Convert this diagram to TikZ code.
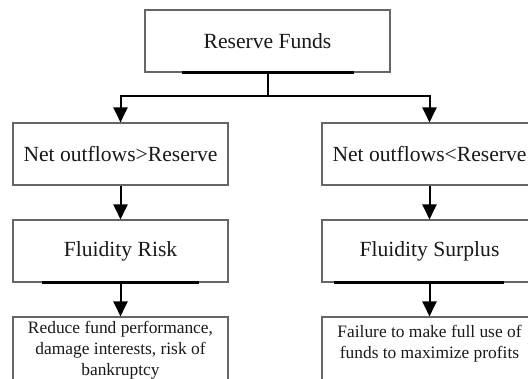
\documentclass[tikz,border=0pt]{standalone}
\usepackage{fontspec}
\setmainfont{Liberation Serif}
\usetikzlibrary{arrows.meta,calc}
\begin{document}
\begin{tikzpicture}[x=1pt,y=-1pt,
  box/.style={draw=black!60, line width=1.1pt, fill=white, rectangle,
    minimum width=215pt, minimum height=62pt, inner sep=0pt,
    font=\fontsize{21.6}{26}\selectfont, text=black!90},
  lowbox/.style={box, minimum height=66pt},
  note/.style={align=center, inner sep=0pt,
    font=\fontsize{17.4}{21}\selectfont, text=black!90},
  link/.style={line width=2pt, black},
  flow/.style={link, -{Triangle[width=14pt,length=15pt]}},
  base/.style={line width=2.2pt, black}
]
\useasboundingbox (0,0) rectangle (528,378);

% boxes
\node[box, minimum width=245pt] (rf) at (267.5,41) {Reserve Funds};
\node[box] (ngt) at (120.5,154) {Net outflows>Reserve};
\node[box] (nlt) at (429.5,154) {Net outflows<Reserve};
\node[box] (risk) at (120.5,251) {Fluidity Risk};
\node[box] (surp) at (429.5,251) {Fluidity Surplus};
\node[lowbox] (lres) at (120.5,350) {};
\node[lowbox] (rres) at (429.5,350) {};

% texts of the outcome boxes
\node[note] (ltxt) at ($(lres.north)+(0,34)$) {Reduce fund performance,\\damage interests, risk of\\bankruptcy};
\node[note] (rtxt) at ($(rres.north)+(0,27)$) {Failure to make full use of\\funds to maximize profits};

% heavy base strokes along box bottoms
\draw[base] ($(rf.south west)+(38,0)$) -- ($(rf.south east)+(-37,0)$);
\draw[base] ($(risk.south west)+(30,0)$) -- ($(risk.south east)+(-30,0)$);
\draw[base] ($(surp.south west)+(13,0)$) -- ($(surp.south east)+(-34,0)$);

% connectors
\coordinate (split) at ($(rf.south)+(0,23)$);
\draw[link] (rf.south) -- (split);
\draw[flow] (split) -| (ngt.north);
\draw[flow] (split) -| (nlt.north);
\draw[flow] (ngt.south) -- (risk.north);
\draw[flow] (nlt.south) -- (surp.north);
\draw[flow] (risk.south) -- (lres.north);
\draw[flow] (surp.south) -- (rres.north);
\end{tikzpicture}
\end{document}
